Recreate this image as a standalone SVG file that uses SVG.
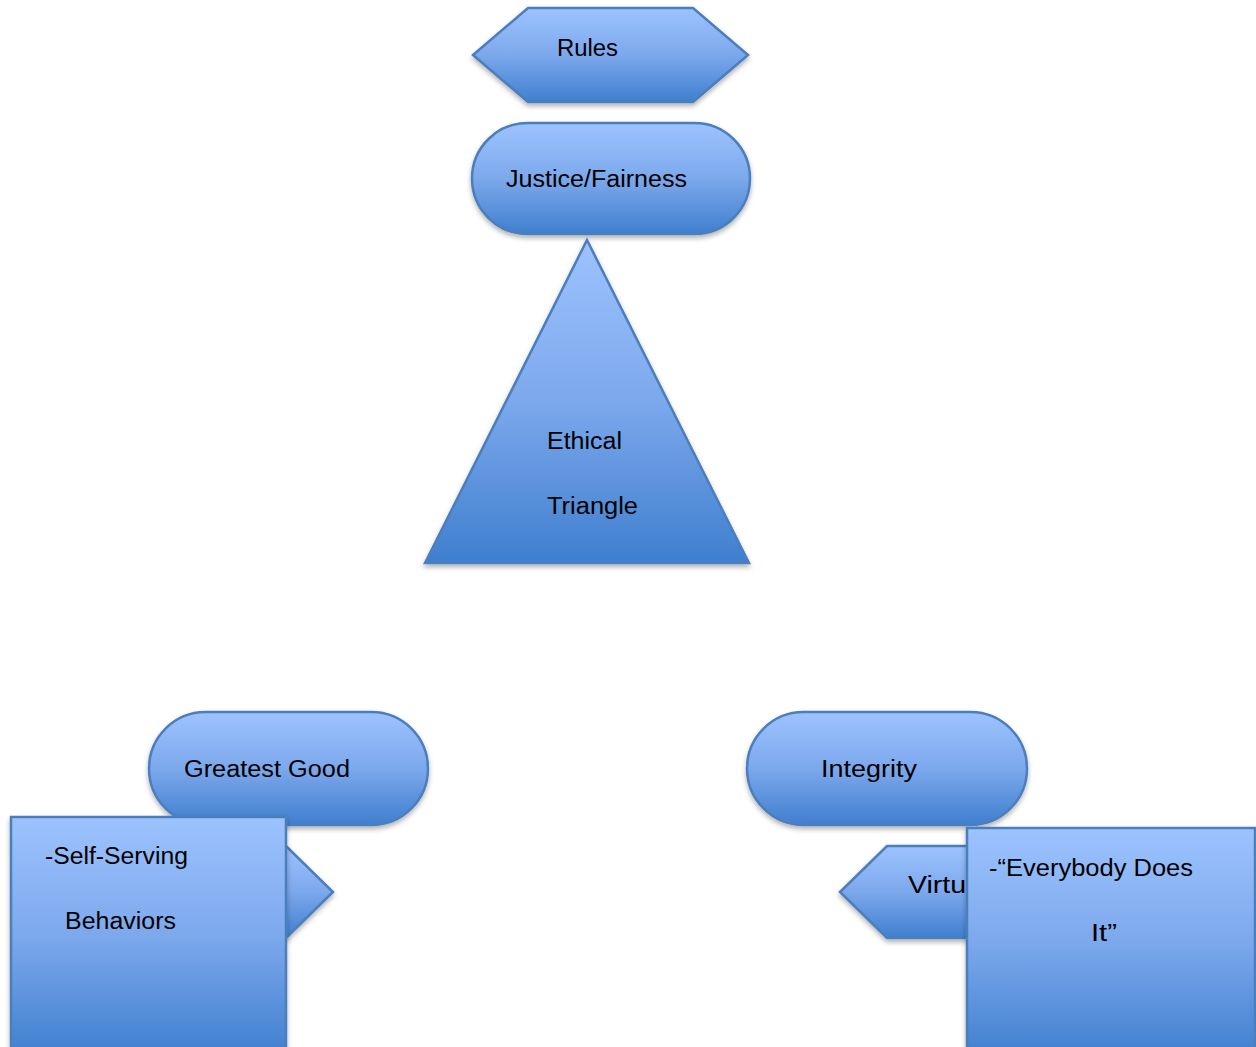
<svg xmlns="http://www.w3.org/2000/svg" width="1256" height="1047" viewBox="0 0 1256 1047">
<defs>
<linearGradient id="g" x1="0" y1="0" x2="0" y2="1">
<stop offset="0" stop-color="#9DC3FE"/>
<stop offset="0.5" stop-color="#7CA8EC"/>
<stop offset="1" stop-color="#3F7FCE"/>
</linearGradient>
<filter id="sh" x="-10%" y="-10%" width="120%" height="130%">
<feDropShadow dx="0" dy="3" stdDeviation="2.5" flood-color="#000" flood-opacity="0.3"/>
</filter>
<style>
.s{fill:url(#g);stroke:#4C7EBD;stroke-width:2.5;filter:url(#sh)}
.t{font-family:"Liberation Sans",Arial,sans-serif;font-size:23px;fill:#000}
</style>
</defs>
<rect width="1256" height="1047" fill="#fff"/>
<g id="connectors"></g>
<g id="rules">
<polygon class="s" points="473,55 528,8 693,8 748,55 693,102 528,102"/>
<text class="t" x="557" y="56" textLength="61" lengthAdjust="spacingAndGlyphs">Rules</text>
</g>
<g id="justice">
<rect class="s" x="472" y="123" width="278" height="111" rx="55.5"/>
<text class="t" x="506" y="187" textLength="181" lengthAdjust="spacingAndGlyphs">Justice/Fairness</text>
</g>
<g id="triangle">
<polygon class="s" points="587,240 749,563 425,563"/>
<text class="t" x="547" y="449" textLength="75" lengthAdjust="spacingAndGlyphs">Ethical</text>
<text class="t" x="547" y="514" textLength="91" lengthAdjust="spacingAndGlyphs">Triangle</text>
</g>
<g id="greatest-good">
<rect class="s" x="149" y="712" width="279" height="113" rx="56.5"/>
<text class="t" x="184" y="777" textLength="166" lengthAdjust="spacingAndGlyphs">Greatest Good</text>
</g>
<g id="integrity">
<rect class="s" x="747" y="712" width="280" height="113" rx="56.5"/>
<text class="t" x="821" y="777" textLength="96" lengthAdjust="spacingAndGlyphs">Integrity</text>
</g>
<g id="self-arrow">
<polygon class="s" points="150,846 286,846 333,892 286,938 150,938"/>
</g>
<g id="self-serving">
<rect class="s" x="11" y="817" width="275" height="240"/>
<text class="t" x="45" y="864" textLength="143" lengthAdjust="spacingAndGlyphs">-Self-Serving</text>
<text class="t" x="65" y="929" textLength="111" lengthAdjust="spacingAndGlyphs">Behaviors</text>
</g>
<g id="virtue">
<polygon class="s" points="840,892 887,846 1080,846 1080,938 887,938"/>
<text class="t" x="908" y="893" textLength="74" lengthAdjust="spacingAndGlyphs">Virtue</text>
</g>
<g id="everybody">
<rect class="s" x="967" y="828" width="288" height="230"/>
<text class="t" x="989" y="876" textLength="204" lengthAdjust="spacingAndGlyphs">-“Everybody Does</text>
<text class="t" x="1091" y="941" textLength="26" lengthAdjust="spacingAndGlyphs">It”</text>
</g>
</svg>
